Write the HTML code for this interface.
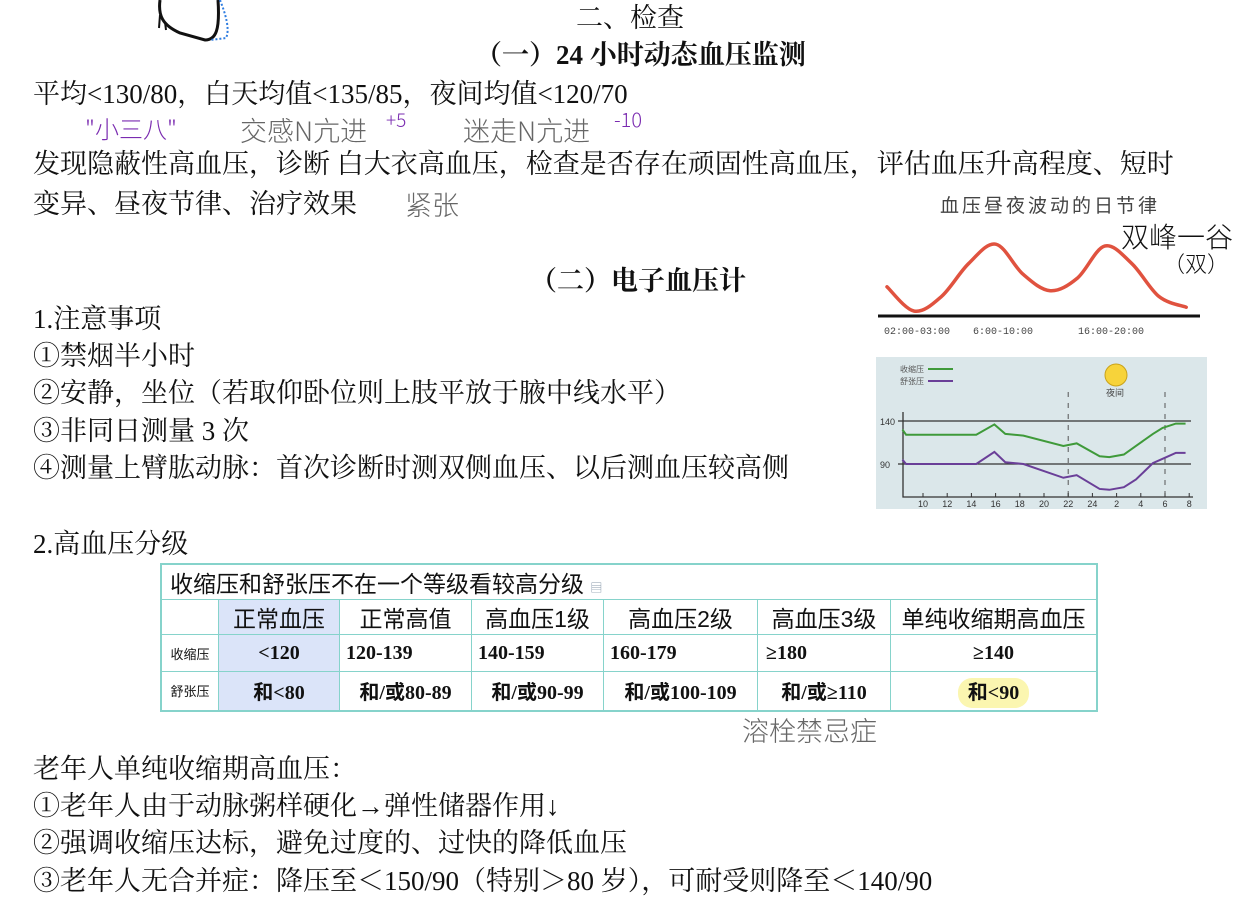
<!DOCTYPE html>
<html><head><meta charset="utf-8">
<style>
body{margin:0;width:1260px;height:917px;background:#fff;position:relative;overflow:hidden;font-family:"Liberation Serif","Noto Serif CJK SC",serif;color:#111}
.t{position:absolute;left:33px;font-size:27px;line-height:30px;white-space:nowrap}
.h{position:absolute;font-size:27px;line-height:30px;font-weight:bold;white-space:nowrap}
.hw{position:absolute;font-family:"WenQuanYi Zen Hei","Noto Sans CJK SC",sans-serif;white-space:nowrap;font-weight:300}
table{position:absolute;left:160px;top:563px;width:938px;border-collapse:collapse;border:2px solid #86d3cb;font-family:"Liberation Serif","Noto Sans CJK SC",sans-serif}
td{border:1px solid #86d3cb;padding:0;text-align:center;font-size:20px;font-weight:bold;white-space:nowrap}
td.hd{font-weight:normal;font-size:23px;font-family:"Liberation Sans","Noto Sans CJK SC",sans-serif}
td.sm{font-weight:normal;font-size:13px;font-family:"Liberation Sans","Noto Sans CJK SC",sans-serif}
.blue{background:#dbe4f9}
</style></head><body>
<svg style="position:absolute;left:150px;top:0" width="90" height="45">
<path d="M10 0 C8 15,12 25,30 33 L55 40 C66 40,70 30,68 0" fill="none" stroke="#111" stroke-width="3"/>
<path d="M10 15 L9 28 M15 22 L16 30" stroke="#111" stroke-width="2"/>
<path d="M70 0 C76 15,80 30,76 38 L60 40" fill="none" stroke="#2f7de0" stroke-width="2" stroke-dasharray="2 2"/>
</svg>
<div class="h" style="left:576px;top:3px;font-weight:normal">二、检查</div>
<div class="h" style="left:475px;top:40px">（一）24 小时动态血压监测</div>
<div class="t" style="top:79px">平均&lt;130/80，白天均值&lt;135/85，夜间均值&lt;120/70</div>
<div class="hw" style="left:85px;top:110px;font-size:24px;color:#7a2bb0">"小三八"</div>
<div class="hw" style="left:240px;top:110px;font-size:27px;color:#666">交感N亢进</div>
<div class="hw" style="left:386px;top:106px;font-size:19px;color:#7a2bb0">+5</div>
<div class="hw" style="left:463px;top:110px;font-size:27px;color:#666">迷走N亢进</div>
<div class="hw" style="left:614px;top:104px;font-size:20px;color:#7a2bb0">-10</div>
<div class="t" style="top:149px">发现隐蔽性高血压，诊断 白大衣高血压，检查是否存在顽固性高血压，评估血压升高程度、短时</div>
<div class="t" style="top:189px">变异、昼夜节律、治疗效果</div>
<div class="hw" style="left:405px;top:184px;font-size:27px;color:#666">紧张</div>
<div class="h" style="left:530px;top:266px">（二）电子血压计</div>
<div class="t" style="top:304px">1.注意事项</div>
<div class="t" style="top:341px">①禁烟半小时</div>
<div class="t" style="top:378px">②安静，坐位（若取仰卧位则上肢平放于腋中线水平）</div>
<div class="t" style="top:416px">③非同日测量 3 次</div>
<div class="t" style="top:453px">④测量上臂肱动脉：首次诊断时测双侧血压、以后测血压较高侧</div>
<div class="t" style="top:529px">2.高血压分级</div>

<svg id="c1" style="position:absolute;left:878px;top:188px" width="325" height="152">
<text x="172" y="24" text-anchor="middle" font-size="19" fill="#444" font-family="Noto Sans CJK SC,sans-serif" letter-spacing="3">血压昼夜波动的日节律</text>
<line x1="0" y1="128" x2="322" y2="128" stroke="#111" stroke-width="3"/>
<text x="6" y="146" font-size="10" fill="#444" font-family="Liberation Mono,monospace">02:00-03:00</text>
<text x="95" y="146" font-size="10" fill="#444" font-family="Liberation Mono,monospace">6:00-10:00</text>
<text x="200" y="146" font-size="10" fill="#444" font-family="Liberation Mono,monospace">16:00-20:00</text>
</svg>
<div class="hw" style="left:1121px;top:216px;font-size:28px;color:#111">双峰一谷</div>
<div class="hw" style="left:1163px;top:247px;font-size:22px;color:#111">（双）</div>

<svg id="c2" style="position:absolute;left:876px;top:357px" width="331" height="152">
<rect width="331" height="152" fill="#dbe7ea"/>
</svg>

<table>
<tr style="height:34px"><td colspan="7" class="hd" style="text-align:left;padding-left:8px">收缩压和舒张压不在一个等级看较高分级 <span style="font-size:12px;color:#89a">▤</span></td></tr>
<tr style="height:33px"><td style="width:56px"></td><td class="hd blue" style="width:120px">正常血压</td><td class="hd" style="width:131px">正常高值</td><td class="hd" style="width:131px">高血压1级</td><td class="hd" style="width:153px">高血压2级</td><td class="hd" style="width:132px">高血压3级</td><td class="hd">单纯收缩期高血压</td></tr>
<tr style="height:37px"><td class="sm">收缩压</td><td class="blue">&lt;120</td><td style="text-align:left;padding-left:6px">120-139</td><td style="text-align:left;padding-left:6px">140-159</td><td style="text-align:left;padding-left:6px">160-179</td><td style="text-align:left;padding-left:8px">≥180</td><td>≥140</td></tr>
<tr style="height:39px"><td class="sm">舒张压</td><td class="blue">和&lt;80</td><td>和/或80-89</td><td>和/或90-99</td><td>和/或100-109</td><td>和/或≥110</td><td><span style="background:#fbf6b0;border-radius:14px;padding:4px 10px">和&lt;90</span></td></tr>
</table>
<div class="hw" style="left:742px;top:710px;font-size:27px;color:#666">溶栓禁忌症</div>

<div class="t" style="top:754px">老年人单纯收缩期高血压：</div>
<div class="t" style="top:791px">①老年人由于动脉粥样硬化→弹性储器作用↓</div>
<div class="t" style="top:828px">②强调收缩压达标，避免过度的、过快的降低血压</div>
<div class="t" style="top:866px">③老年人无合并症：降压至＜150/90（特别＞80 岁），可耐受则降至＜140/90</div>

<script>
// chart 1: diurnal rhythm (relative BP level 0-100 vs hour index)
const c1Hours=[0,1,2,3,4,5,6,7,8,9,10,11];
const c1Level=[28,3,18,52,72,41,24,37,70,52,18,7];
// chart 2: 24h BP
const c2Hours=[8.3,8.6,14.4,15.9,16.8,18.3,21.6,22.7,24.6,25.4,26.6,27.6,29,29.8,30.9,31.7];
const c2Systolic=[130,124,124,136,125,123,111,114,99,98,101,111,125,132,137,137];
const c2Diastolic=[95,90,90,104,92,90,74,77,61,60,63,72,91,96,103,103];
const c2Ticks=[10,12,14,16,18,20,22,24,26,28,30,32];
const c2TickLabels=["10","12","14","16","18","20","22","24","2","4","6","8"];
const c2YTicks=[140,90];
const c2Dashes=[22,30];
const NS="http://www.w3.org/2000/svg";
function mk(p,tag,a){const e=document.createElementNS(NS,tag);for(const k in a)e.setAttribute(k,a[k]);p.appendChild(e);return e;}
function smooth(pts){let d="M"+pts[0][0]+" "+pts[0][1];for(let i=0;i<pts.length-1;i++){const p0=pts[i-1]||pts[i],p1=pts[i],p2=pts[i+1],p3=pts[i+2]||p2;d+=" C"+(p1[0]+(p2[0]-p0[0])/6)+" "+(p1[1]+(p2[1]-p0[1])/6)+","+(p2[0]-(p3[0]-p1[0])/6)+" "+(p2[1]-(p3[1]-p1[1])/6)+","+p2[0]+" "+p2[1];}return d;}
// c1
const s1=document.getElementById('c1');
const x1=i=>9+i*27.2, y1=v=>126-v*0.97;
const cur=mk(s1,'path',{d:smooth(c1Hours.map((h,i)=>[x1(h),y1(c1Level[i])])),fill:'none',stroke:'#e0523f','stroke-width':3.5,'stroke-linecap':'round'});


// c2
const s2=document.getElementById('c2');
const x2=h=>47+(h-10)*12.1, y2=v=>64-(v-140)*0.86;
c2YTicks.forEach(v=>{
 const l=mk(s2,'line',{x1:22,x2:315,y1:y2(v),y2:y2(v),stroke:'#333','stroke-width':1.2});
 
 
 const t=mk(s2,'text',{x:4,y:y2(v)+4,'font-size':9,fill:'#333','font-family':'Liberation Sans,sans-serif'});t.textContent=v;
 
 
});
c2Dashes.forEach(h=>{
 const l=mk(s2,'line',{x1:x2(h),x2:x2(h),y1:35,y2:140,stroke:'#555','stroke-dasharray':'5 6'});
 
 
});
const ax=mk(s2,'path',{d:'M27 55 L27 140 L317 140',fill:'none',stroke:'#333','stroke-width':1.3});


c2Ticks.forEach((h,i)=>{
 mk(s2,'line',{x1:x2(h),x2:x2(h),y1:136,y2:140,stroke:'#333'});
 const t=mk(s2,'text',{x:x2(h),y:150,'font-size':9,'text-anchor':'middle',fill:'#333','font-family':'Liberation Sans,sans-serif'});t.textContent=c2TickLabels[i];
 
 
});
[[c2Systolic,'#3f9a3a','systolic-line'],[c2Diastolic,'#6a3f98','diastolic-line']].forEach(([arr,c,n])=>{
 const p=mk(s2,'polyline',{points:c2Hours.map((h,i)=>x2(h)+','+y2(arr[i])).join(' '),fill:'none',stroke:c,'stroke-width':2});
 
 
});
[['收缩压','#3f9a3a',12],['舒张压','#6a3f98',24]].forEach(([lab,c,y])=>{
 const t=mk(s2,'text',{x:24,y:y+3,'font-size':8,fill:'#555','font-family':'Noto Sans CJK SC,sans-serif'});t.textContent=lab;
 
 
 mk(s2,'line',{x1:52,x2:77,y1:y,y2:y,stroke:c,'stroke-width':2});
});
const sun=mk(s2,'circle',{cx:240,cy:18,r:11,fill:'#f7d33a',stroke:'#c9a21a'});


const nt=mk(s2,'text',{x:239,y:39,'font-size':9,'text-anchor':'middle',fill:'#444','font-family':'Noto Sans CJK SC,sans-serif'});nt.textContent='夜间';


</script>
</body></html>
